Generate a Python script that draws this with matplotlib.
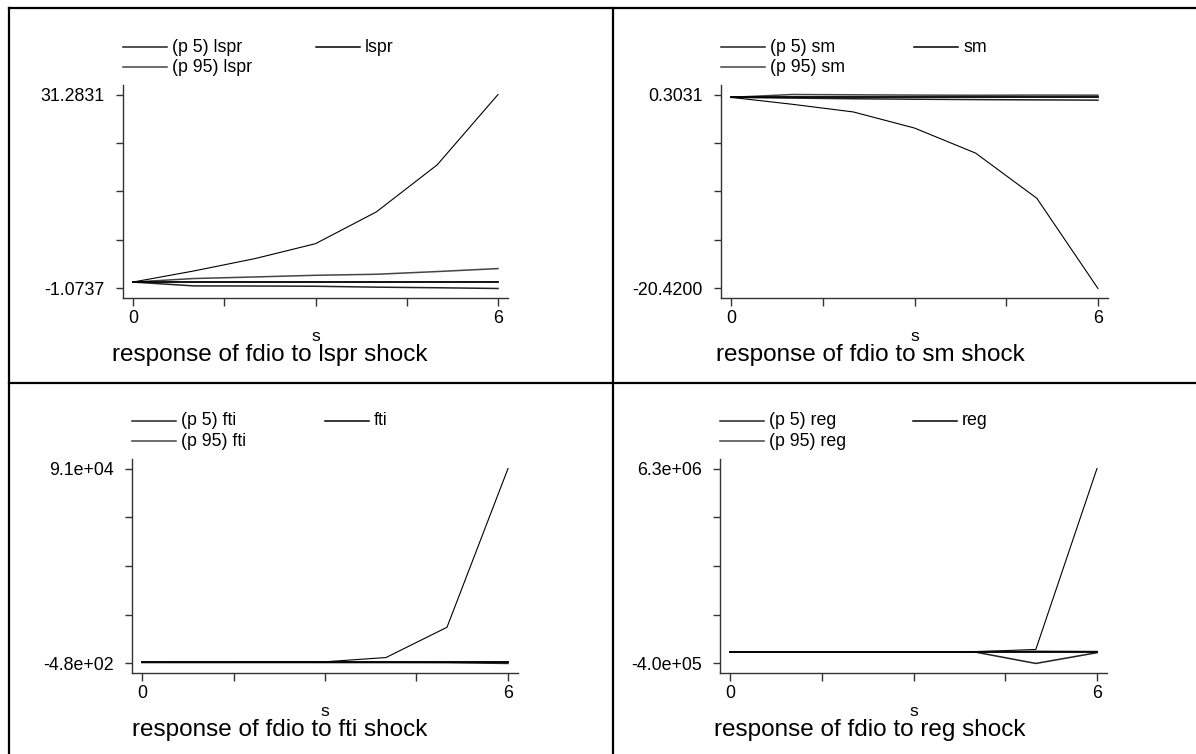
import matplotlib
matplotlib.use("Agg")
import matplotlib.pyplot as plt
from matplotlib.lines import Line2D
import numpy as np

plt.rcParams['font.family'] = ['Liberation Sans', 'DejaVu Sans']

# impulse response steps
steps = [0, 1, 2, 3, 4, 5, 6]

# response of fdio to lspr shock
lspr_irf = [0, 1.85, 3.9, 6.4, 11.7, 19.55, 31.2831]
lspr_p5 = [0, -0.64, -0.66, -0.7, -0.85, -0.95, -1.0737]
lspr_p95 = [0, 0.59, 0.85, 1.13, 1.3, 1.75, 2.25]
lspr_ylabels = ["-1.0737", "31.2831"]

# response of fdio to sm shock
sm_irf = [0, -0.74, -1.56, -3.28, -5.96, -10.78, -20.42]
sm_p5 = [0, -0.08, -0.15, -0.2, -0.24, -0.27, -0.3]
sm_p95 = [0, 0.3031, 0.27, 0.24, 0.22, 0.24, 0.23]
sm_ylabels = ["-20.4200", "0.3031"]

# response of fdio to fti shock
fti_irf = [0, 20, 80, 300, 2300, 16500, 91000]
fti_p5 = [0, -5, -10, -20, -40, -100, -480]
fti_p95 = [0, 5, 10, 20, 30, 40, 50]
fti_ylabels = ["-4.8e+02", "9.1e+04"]

# response of fdio to reg shock
reg_irf = [0, 0, 0, 0, 5000, 80000, 6.3e6]
reg_p5 = [0, 0, 0, 0, -5000, -4.0e5, -30000]
reg_p95 = [0, 0, 0, 0, 3000, 20000, 10000]
reg_ylabels = ["-4.0e+05", "6.3e+06"]

W, H = 1196, 754
fig = plt.figure(figsize=(W / 100, H / 100), dpi=100)

# grid lines between the four cells
def fig_line(x0, y0, x1, y1, lw=1.6):
    fig.add_artist(Line2D([x0 / W, x1 / W], [1 - y0 / H, 1 - y1 / H],
                          transform=fig.transFigure, color='black', lw=lw))

fig_line(9, 7.5, W, 7.5)
fig_line(9, 383, W, 383)
fig_line(9, 7.5, 9, H)
fig_line(613, 7.5, 613, H)

panels = [
    # name, irf, p5, p95, labels, (left, right, top, bottom), cell_left
    ("lspr", lspr_irf, lspr_p5, lspr_p95, lspr_ylabels, (123, 508, 85, 298), 0),
    ("sm", sm_irf, sm_p5, sm_p95, sm_ylabels, (721, 1108, 85, 298), 598),
    ("fti", fti_irf, fti_p5, fti_p95, fti_ylabels, (132, 518, 459, 673), 0),
    ("reg", reg_irf, reg_p5, reg_p95, reg_ylabels, (720, 1107, 459, 673), 598),
]

fs = 12.8
for name, irf, p5, p95, ylabels, (l, r, t, b), cell in panels:
    ax = fig.add_axes([l / W, 1 - b / H, (r - l) / W, (b - t) / H])
    ax.plot(steps, p5, color='#222222', lw=1.1)
    ax.plot(steps, irf, color='black', lw=0.8)
    ax.plot(steps, p95, color='#444444', lw=1.1)
    ax.plot(steps, np.zeros(len(steps)), color='black', lw=1.3)

    allv = np.concatenate([irf, p5, p95])
    lo, hi = allv.min(), allv.max()
    pad = (hi - lo) * 0.049
    ax.set_ylim(lo - pad, hi + pad)
    ax.set_xlim(-0.164, 6.164)

    yt = np.linspace(lo, hi, 5)
    ax.set_yticks(yt)
    ax.set_yticklabels([ylabels[0], "", "", "", ylabels[1]], fontsize=fs)
    ax.set_xticks([0, 1.5, 3, 4.5, 6])
    ax.set_xticklabels(["0", "", "", "", "6"], fontsize=fs)
    ax.tick_params(axis='y', length=5, width=1, color='#333333', pad=8)
    ax.tick_params(axis='x', length=6, width=1, color='#333333', pad=3)
    for s in ['top', 'right']:
        ax.spines[s].set_visible(False)
    for s in ['left', 'bottom']:
        ax.spines[s].set_color('#333333')
        ax.spines[s].set_linewidth(1)

    # x axis title and graph title
    fig.text((l + r) / 2 / W, 1 - (b + 38) / H, "s", ha='center', va='center', fontsize=12.5)
    fig.text((cell + 427) / W, 1 - (b + 63) / H, "response of fdio to %s shock" % name,
             ha='right', va='baseline', fontsize=17.5)

    # legend, Stata style with fixed column positions
    entries = [("(p 5) %s" % name, l, t - 38, '#222222'),
               (name, l + 193, t - 38, 'black'),
               ("(p 95) %s" % name, l, t - 18, '#444444')]
    for lab, x, y, c in entries:
        fig.add_artist(Line2D([x / W, (x + 44) / W], [1 - y / H, 1 - y / H],
                              transform=fig.transFigure, color=c, lw=1.1))
        fig.text((x + 49) / W, 1 - y / H, lab, ha='left', va='center', fontsize=fs)

fig.savefig("out.png", dpi=100)
